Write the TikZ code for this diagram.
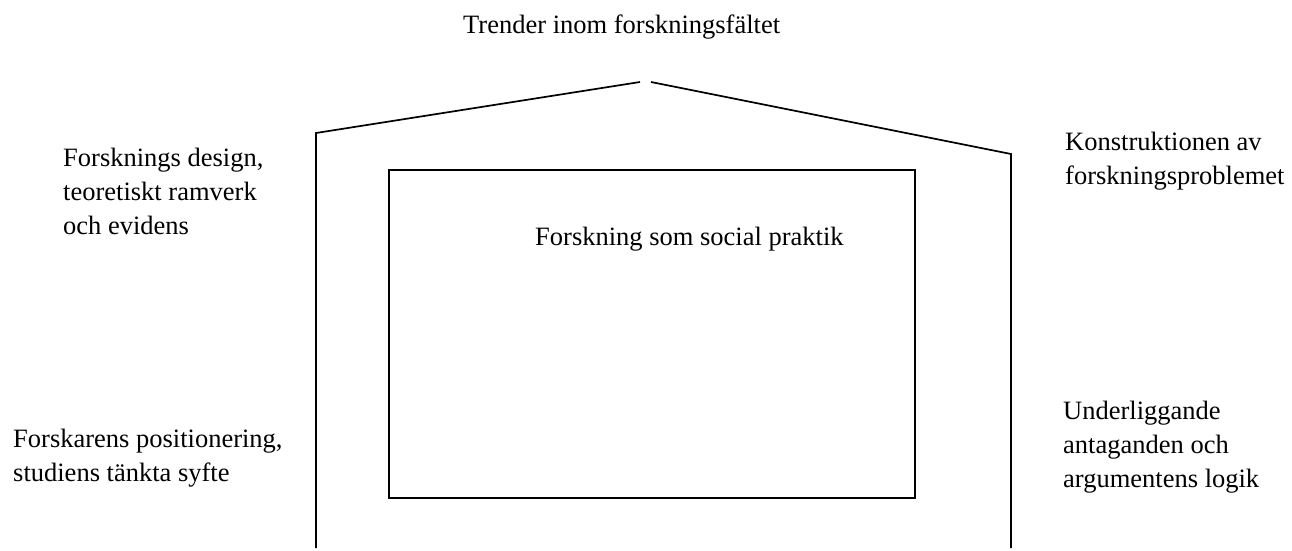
\documentclass[tikz,border=0pt]{standalone}
\usepackage{fontspec}
\setmainfont{Liberation Serif}
\begin{document}
\begin{tikzpicture}[x=1pt,y=-1pt,
  lbl/.style={anchor=base west,inner sep=0pt,align=left,font=\fontsize{26.5}{34}\selectfont},
  wall/.style={line width=1.7pt,line join=miter}]
\useasboundingbox (0,0) rectangle (1292,550);
\coordinate (peakL) at (640,82);
\coordinate (cornerL) at (316,133);
\coordinate (footL) at (316,548);
\coordinate (peakR) at (651,82);
\coordinate (cornerR) at (1011,154);
\coordinate (footR) at (1011,548);
\draw[wall] (peakL) -- (cornerL) -- (footL);
\draw[wall] (peakR) -- (cornerR) -- (footR);
\node[draw,line width=1.7pt,minimum width=526pt,minimum height=328pt,inner sep=0pt,anchor=north west] (box) at (388,169) {};
\node[lbl] (title) at (463,33) {Trender inom forskningsfältet};
\node[lbl] (center) at (535,245) {Forskning som social praktik};
\node[lbl] (tl) at (63,234) {Forsknings design,\\teoretiskt ramverk\\och evidens};
\node[lbl] (tr) at (1065,184) {Konstruktionen av\\forskningsproblemet};
\node[lbl] (bl) at (13,481) {Forskarens positionering,\\studiens tänkta syfte};
\node[lbl] (br) at (1063,487) {Underliggande\\antaganden och\\argumentens logik};
\end{tikzpicture}
\end{document}
